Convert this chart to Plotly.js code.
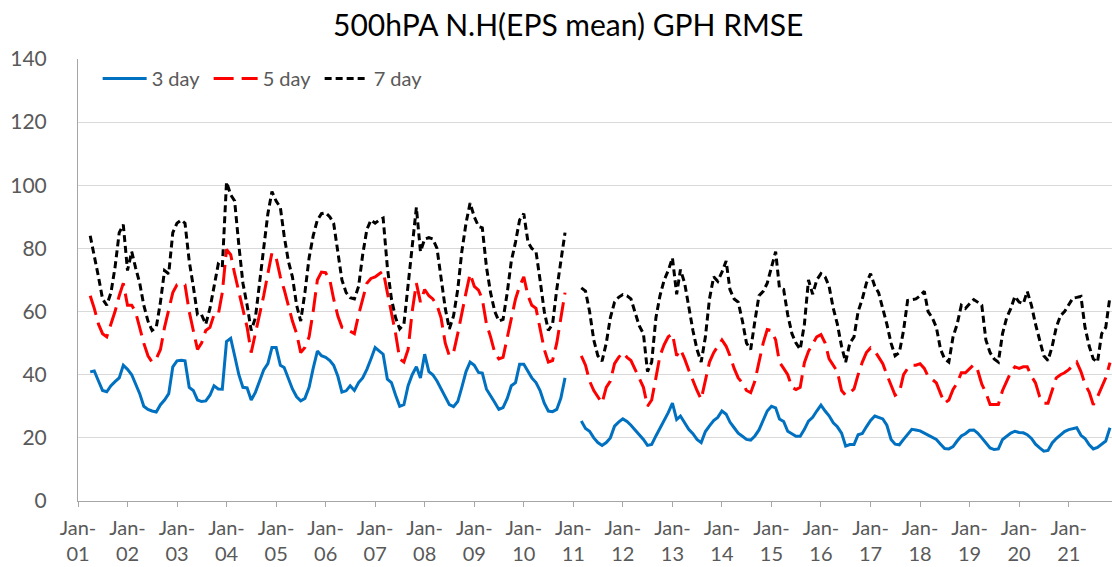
<!DOCTYPE html>
<html>
<head>
<meta charset="utf-8">
<script src="https://cdn.plot.ly/plotly-3.0.1.min.js"></script>
<style>html,body{margin:0;padding:0;background:#fff;}#chart{width:1112px;height:567px;}</style>
</head>
<body>
<div id="chart"></div>
<script>
// Segment 1: monthly values starting Apr 2001 (to Nov 2010)
const seg1Start = [2001, 4];
// Segment 2: monthly values starting Mar 2011
const seg2Start = [2011, 3];

const day3_seg1 = [40.9,41.2,38,35,34.6,36.5,37.8,39,43,41.7,40,37,34,30,29,28.5,28.2,30.5,32,34,42.5,44.4,44.6,44.4,36,35,32,31.5,31.7,33.5,36.5,35.5,35.4,50.5,51.5,46,40,36,35.8,32,34.4,38,41.5,43.5,48.6,48.6,43,42.3,39,35.5,33,31.7,32.5,36,42,47.5,46,45.5,44.5,43,39.5,34.5,34.9,36.5,35,37.5,39,41.7,45,48.6,47.5,46.5,38.6,37.5,33.5,30,30.5,36.5,40,42.5,39,46.5,41,40,38,35.5,32.5,30.5,29.9,31.5,36,41,44,43,40.7,40.5,35.4,33.5,31.2,29,29.6,32.5,36.5,37.5,43.3,43.3,41,39,37.5,35,31,28.5,28.3,29,32.5,39];
const day3_seg2 = [25.3,23,22.1,20,18.5,17.6,18.5,20,23.7,25,26,25.2,24,22.5,21.2,19.5,17.6,17.9,20.6,23,25.5,28,31,25.8,26.9,24.8,22.7,21.3,19.5,18.5,22,23.8,25.5,26.5,28.5,27.5,25,23.2,21.5,20.5,19.5,19.3,20.6,22.5,25.5,28.5,30,29.5,26,25.2,22.1,21.3,20.5,20.5,22.7,25.3,26.5,28.5,30.4,28.5,27,24.8,23.5,21.5,17.4,17.9,17.9,21,21.4,23.5,25.5,26.9,26.4,26,24,19.5,18,17.8,19.5,21,22.7,22.5,22.2,21.5,20.8,20,19.5,18,16.6,16.5,17.2,19,20.6,21.3,22.4,22.5,21.5,20,18.5,16.8,16.3,16.5,19.5,20.6,21.5,22.1,21.7,21.6,21,19.8,18,16.8,15.8,16,18.4,19.8,21,22,22.6,23,23.2,20.8,19.8,17.8,16.5,17,18,19,23.2];

const day5_seg1 = [65,61,56,53,52,56,60,65,69,62,62,60,55,50,46,44,45,48,55,61,66,68.5,69,68.5,60,54,48,50,54,55,59,59,66,79.7,78,72,66,60,55,47,53,60,65,72,78.6,77,71,67,62,57,53,47,48.6,52,60,70,72.5,72.3,70,64,58.6,55,54.5,53.8,53,59,64,69,70.5,71,72,72.8,66,60,53,45,44,48,60,69,63,67,65,64,62,58,50,46,47,53,60,66,72,68,66.8,64,56,52,47,45,45.5,52,58,64,68,71,65,62,61,55,48,44,44.5,50,58,66];
const day5_seg2 = [46,43,38,35,33,31,36,38,43.5,45.5,47,45.5,44.5,41.5,39,36,30,32,39,46,49.5,52,53,46,48,45,41.5,38,35,32.2,38,44,47,49,51,49,46,42,39,37.4,35,34.3,38,44,50,54.3,54,51,44,42,40,36,35.3,36,43.8,47.4,50,52,52.7,50,45,43,41,35,33.5,34.3,35.5,40,44,47,48.5,47.5,45.5,43.5,40,36.5,33.5,34.3,40,42,43,43,43.5,42,39.5,38.5,37.4,34,31,32,35.3,37.4,40.6,40.6,42,43.2,41.5,37,34.3,30.6,30.6,30.6,35,38,40.8,42.5,42,42.5,42.5,39.5,37.4,33,31,31,35,39,40,40.6,41.6,43,44,41,37,34.5,30.5,33,36,39,43.8];

const day7_seg1 = [84,78,71,64,62,66,74,85,87.5,73,79,74,69,62,57,54,55,63,73,72,85,88,89,88,76,68,59,59,56,61,68,75,74,101,97,95,81,69,62,54,58,70,80,91,98,95,93,84,76,71,62,57,66,77,84,89,91,91.3,90,88,79,70,66,64.4,64,68,78,86,89,88,89,89.6,74,64,58,54.5,56,69,82,93,79,83,83.4,83,80,71,61,54.5,58.6,67,79,88,94.4,90,87,86.5,74,66,60,57,57.5,66,76,82,89,91,82,80,79,70,60,54,56,67,76,85];
const day7_seg2 = [67.5,66.5,60,51,46,44.3,50,58,63,64.5,65.4,65,64,60,55.5,53,41,44,58,65,70,73,77,65.5,73.3,69,61,54,48,44,52,64,71,69.6,72.5,76,67,64,63,57,50,48,57,65,66.4,69,74,79,67.5,67,59,53,50,48,56,70,65.5,70,72,71,68,61,56,49,44,50,52,60,64,69,72,68,66,61,56,50,46,47,54,63.5,63.8,64,65,66.4,60,58,55,48,45,44,52,56,62,61,62.5,63.8,63,62,51,47,45,44,53,58,61,64.8,63,62.5,66.4,62,56,51,46,44.5,49,55,58.7,60,62,64.3,64.5,64.8,55,49,45,44,53,55,64.8];

const years = Array.from({length: 21}, (_, i) => 2001 + i);
const tickVals = years.map(y => y + '-01-01');
const tickText = years.map(y => 'Jan-<br>' + String(y % 100).padStart(2, '0'));

function monthDates(start, n) {
  const out = [];
  for (let i = 0; i < n; i++) {
    const t = (start[0] * 12 + (start[1] - 1)) + i;
    const y = Math.floor(t / 12), m = t % 12 + 1;
    out.push(y + '-' + String(m).padStart(2, '0') + '-01');
  }
  return out;
}
// build x with a null gap between the two segments
const x1 = monthDates(seg1Start, day3_seg1.length);
const x2 = monthDates(seg2Start, day3_seg2.length);
const xs = x1.concat(['2011-01-01'], x2);
function join(a, b) { return a.concat([null], b); }

const font = 'Lato, "Open Sans", "DejaVu Sans", sans-serif';
const traces = [
  {x: xs, y: join(day3_seg1, day3_seg2), name: '3 day', mode: 'lines', connectgaps: false,
   line: {color: '#0070c0', width: 3}},
  {x: xs, y: join(day5_seg1, day5_seg2), name: '5 day', mode: 'lines', connectgaps: false,
   line: {color: '#ff0000', width: 3, dash: '20px,8px'}},
  {x: xs, y: join(day7_seg1, day7_seg2), name: '7 day', mode: 'lines', connectgaps: false,
   line: {color: '#000000', width: 3, dash: '7px,4px'}}
];

const layout = {
  width: 1112, height: 567,
  margin: {l: 77.5, r: 0, t: 59, b: 65.5},
  paper_bgcolor: '#ffffff', plot_bgcolor: '#ffffff',
  font: {family: font, color: '#595959', size: 19},
  title: {text: '500hPA N.H(EPS mean) GPH RMSE', font: {family: font, size: 30, color: '#000000'},
          x: 0.511, xref: 'container', xanchor: 'center', y: 0.955, yref: 'container', yanchor: 'middle'},
  showlegend: true,
  legend: {orientation: 'h', x: 0.019, y: 1.0, xanchor: 'left', yanchor: 'top',
           font: {family: font, size: 20, color: '#595959'}, bgcolor: 'rgba(0,0,0,0)',
           itemwidth: 44, entrywidth: 52, entrywidthmode: 'pixels'},
  xaxis: {type: 'date', range: ['2001-01-01', '2021-11-16'], tickvals: tickVals, ticktext: tickText,
          showgrid: false, showline: true, linecolor: '#a6a6a6', linewidth: 1,
          ticks: 'outside', ticklen: 5, tickcolor: '#a6a6a6', tickangle: 0, ticklabelstandoff: 4,
          tickfont: {family: font, size: 20, color: '#595959'}, zeroline: false},
  yaxis: {range: [0, 140], dtick: 20, tick0: 0, showgrid: true, gridcolor: '#d9d9d9', gridwidth: 1,
          showline: true, linecolor: '#a6a6a6', linewidth: 1, zeroline: false, ticks: '',
          ticklabelstandoff: 26, tickfont: {family: font, size: 21, color: '#595959'}}
};
Plotly.newPlot('chart', traces, layout, {displayModeBar: false, staticPlot: true});
</script>
</body>
</html>
